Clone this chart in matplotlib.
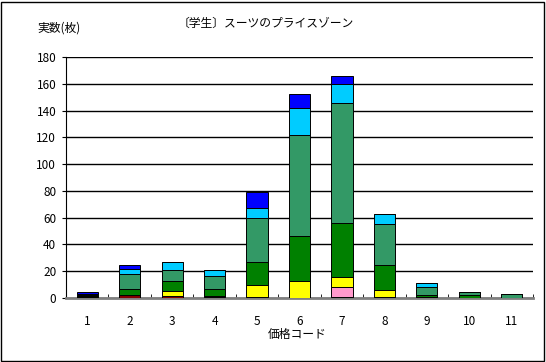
import numpy as np
import matplotlib.pyplot as plt
from matplotlib.patches import Rectangle

plt.rcParams['font.family'] = ['Noto Sans CJK JP', 'DejaVu Sans']

codes = [1, 2, 3, 4, 5, 6, 7, 8, 9, 10, 11]
# stack layers, bottom to top
maroon = [0, 2, 1.5, 1, 0, 0, 1, 1, 0, 0, 0]
pink = [0, 0, 0, 0.5, 1, 0, 7, 0, 0, 0, 0]
yellow = [1, 0, 4, 0, 9, 13, 8, 5, 1, 0, 0]
green = [0.5, 5, 7.5, 5, 17, 33, 40, 19, 1.5, 2, 0]
seagreen = [0.5, 11, 8, 10, 33, 76, 90, 30, 6, 2.5, 3]
lightblue = [1, 4, 6, 4.5, 7, 20, 14, 8, 3, 0, 0]
blue = [1.5, 3, 0, 0, 12, 10, 6, 0, 0, 0, 0]

layers = [maroon, pink, yellow, green, seagreen, lightblue, blue]
colors = ['#800000', '#FF99CC', '#FFFF00', '#008000', '#339966', '#00CCFF', '#0000FF']

fig = plt.figure(figsize=(5.46, 3.62), dpi=100)
ax = fig.add_axes([66/546, 1-298/362, 467/546, 241/362])

x = np.array(codes)
bottom = np.zeros(len(codes))
for vals, c in zip(layers, colors):
    v = np.array(vals, dtype=float)
    ax.bar(x, v, width=0.5, bottom=bottom, color=c, edgecolor='black', linewidth=0.7, zorder=3)
    bottom += v

ax.set_xlim(0.5, 11.5)
ax.set_ylim(0, 180)
ax.set_yticks(np.arange(0, 181, 20))
ax.set_xticks(x)
ax.set_xticks(np.arange(1.5, 11.6, 1), minor=True)
ax.yaxis.grid(True, color='black', linewidth=1)
ax.set_axisbelow(True)
ax.spines['top'].set_visible(False)
ax.spines['right'].set_visible(False)
ax.spines['left'].set_color('black')
ax.spines['bottom'].set_color('#808080')
ax.spines['bottom'].set_linewidth(2)
ax.tick_params(axis='x', which='major', length=0, labelsize=8.5, pad=12)
ax.tick_params(axis='x', which='minor', length=3, direction='in', color='black')
ax.tick_params(axis='y', length=3, direction='out', labelsize=8.5, pad=4)

fig.text(266/546, 1-23/362, '〔学生〕スーツのプライスゾーン', ha='center', va='center', fontsize=8.5)
fig.text(37/546, 1-28/362, '実数(枚)', ha='left', va='center', fontsize=8.5)
fig.text(297/546, 1-334/362, '価格コード', ha='center', va='center', fontsize=8.5)

fig.patches.append(Rectangle((1/546, 1/362), 543/546, 359/362, transform=fig.transFigure,
                             fill=False, edgecolor='black', linewidth=1))

fig.savefig('out.png', dpi=100)
